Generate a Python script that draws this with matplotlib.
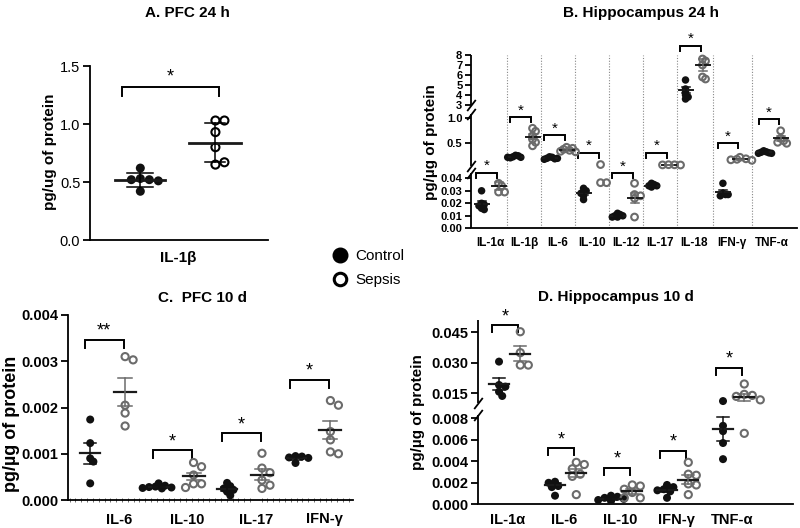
import numpy as np
import matplotlib.pyplot as plt
from matplotlib.lines import Line2D

plt.rcParams['font.family'] = ['Liberation Sans', 'DejaVu Sans']
plt.rcParams['axes.linewidth'] = 1.3

W, H = 800, 528
CTRL = '#111111'
SEPS = '#6b6b6b'

# ---- A. PFC 24 h (IL-1b, mean +/- SD)
a_ctrl = [0.53, 0.52, 0.62, 0.42, 0.52, 0.51]
a_seps = [1.03, 1.03, 0.93, 0.80, 0.65, 0.67]
a_mean = [0.52, 0.84]
a_sd = [0.06, 0.17]

# ---- B. Hippocampus 24 h
b_labels = ['IL-1α', 'IL-1β', 'IL-6', 'IL-10', 'IL-12', 'IL-17', 'IL-18', 'IFN-γ', 'TNF-α']
b_ctrl = [
    [0.030, 0.020, 0.019, 0.018, 0.016, 0.015],
    [0.26, 0.25, 0.23, 0.22, 0.21, 0.22],
    [0.23, 0.22, 0.20, 0.19, 0.18, 0.20],
    [0.032, 0.030, 0.029, 0.028, 0.026, 0.023],
    [0.012, 0.011, 0.010, 0.010, 0.009, 0.009],
    [0.036, 0.035, 0.034, 0.034, 0.033],
    [5.5, 4.6, 4.3, 4.0, 3.8, 3.6],
    [0.036, 0.028, 0.027, 0.026, 0.027],
    [0.35, 0.33, 0.32, 0.31, 0.30, 0.30],
]
b_seps = [
    [0.036, 0.034, 0.029, 0.029],
    [0.80, 0.74, 0.65, 0.58, 0.52, 0.45],
    [0.42, 0.40, 0.38, 0.36, 0.34, 0.33],
    [0.075, 0.0365, 0.0365],
    [0.036, 0.027, 0.026, 0.024, 0.009],
    [0.072, 0.070, 0.068, 0.066],
    [7.6, 7.4, 7.0, 5.8, 5.6],
    [0.22, 0.19, 0.18, 0.17, 0.16],
    [0.75, 0.60, 0.55, 0.52, 0.50],
]
b_ctrl_mean = [0.0195, 0.23, 0.20, 0.028, 0.010, 0.034, 4.5, 0.029, 0.32]
b_ctrl_sem = [0.002, 0.01, 0.008, 0.0013, 0.0005, 0.0005, 0.3, 0.002, 0.01]
b_seps_mean = [0.034, 0.63, 0.37, np.nan, 0.0245, 0.069, 7.0, 0.18, 0.60]
b_seps_sem = [0.003, 0.05, 0.015, np.nan, 0.004, 0.002, 0.6, 0.01, 0.05]
b_bracket = [0.0445, 1.02, 0.66, 0.31, 0.044, 0.31, 8.9, 0.50, 0.98]

# ---- C. PFC 10 d
c_labels = ['IL-6', 'IL-10', 'IL-17', 'IFN-γ']
c_ctrl = [
    [0.00174, 0.00123, 0.00090, 0.00083, 0.00036],
    [0.00036, 0.00031, 0.00029, 0.00028, 0.00027, 0.00026, 0.00025],
    [0.00037, 0.00030, 0.00025, 0.00022, 0.00018, 0.00010],
    [0.00095, 0.00094, 0.00092, 0.00091, 0.00080],
]
c_seps = [
    [0.00310, 0.00303, 0.00205, 0.00188, 0.00160],
    [0.00081, 0.00072, 0.00054, 0.00035, 0.00035, 0.00027],
    [0.00101, 0.00069, 0.00059, 0.00043, 0.00032, 0.00025],
    [0.00215, 0.00205, 0.00148, 0.00130, 0.00104, 0.00100],
]
c_ctrl_mean = [0.00101, 0.00029, 0.00024, 0.00090]
c_ctrl_sem = [0.00023, 0.00002, 0.00004, 0.00003]
c_seps_mean = [0.00233, 0.00051, 0.00055, 0.00151]
c_seps_sem = [0.00030, 0.00008, 0.00011, 0.00020]
c_bracket = [0.00347, 0.00108, 0.00144, 0.00260]
c_stars = ['**', '*', '*', '*']

# ---- D. Hippocampus 10 d
d_labels = ['IL-1α', 'IL-6', 'IL-10', 'IFN-γ', 'TNF-α']
d_ctrl = [
    [0.0306, 0.0191, 0.0183, 0.0158, 0.0137],
    [0.0021, 0.0017, 0.0016, 0.0020, 0.0008],
    [0.0008, 0.0007, 0.0006, 0.0005, 0.0004, 0.0003],
    [0.0018, 0.0016, 0.0014, 0.0013, 0.0012, 0.0006],
    [0.0112, 0.0073, 0.0068, 0.0057, 0.0042],
]
d_seps = [
    [0.0453, 0.0350, 0.0289, 0.0289],
    [0.0039, 0.0037, 0.0033, 0.0028, 0.0026, 0.0009],
    [0.0018, 0.0017, 0.0014, 0.0011, 0.0006, 0.0006],
    [0.0039, 0.0028, 0.0027, 0.0019, 0.0018, 0.0009],
    [0.0196, 0.0145, 0.0140, 0.0135, 0.0118, 0.0066],
]
d_ctrl_mean = [0.0195, 0.0018, 0.0005, 0.0013, 0.0070]
d_ctrl_sem = [0.0030, 0.0002, 0.0001, 0.0002, 0.0011]
d_seps_mean = [0.0345, 0.0029, 0.0012, 0.0023, 0.0130]
d_seps_sem = [0.0038, 0.0004, 0.0002, 0.0004, 0.0018]
d_bracket = [0.0486, 0.0052, 0.0034, 0.0050, 0.0276]

fig = plt.figure(figsize=(W / 100, H / 100), dpi=100)


def add_axes(left, top, right, bottom):
    ax = fig.add_axes([left / W, 1 - bottom / H, (right - left) / W, (bottom - top) / H])
    ax.spines['top'].set_visible(False)
    ax.spines['right'].set_visible(False)
    ax.patch.set_alpha(0)
    return ax


def piecewise_y(ax, data_knots, px_knots):
    # broken y axis: linear pieces glued together
    d = np.asarray(data_knots, float)
    p = np.asarray(px_knots, float)
    ax.set_yscale('function', functions=(lambda v: np.interp(v, d, p), lambda v: np.interp(v, p, d)))


def px_to_x(ax, px):
    x0, x1 = ax.get_xlim()
    return np.asarray(px) * (x1 - x0) / ax.bbox.width


def swarm(ax, xc, vals, d, overlap, step):
    ys = ax.transData.transform(np.column_stack([np.full(len(vals), xc), vals]))[:, 1]
    steps = [0.0]
    for i in range(1, 14):
        steps += [i * d * step, -i * d * step]
    placed = []
    for y in ys:
        for s in steps:
            if all((s - px) ** 2 + (y - py) ** 2 >= (overlap * d) ** 2 for px, py in placed):
                break
        placed.append((s, y))
    return xc + px_to_x(ax, [p[0] for p in placed])


def draw_group(ax, xc, vals, mean, err, filled, d, half_w, cap_w, ecol,
               overlap=0.9, step=0.5, lw=1.6):
    xs = swarm(ax, xc, vals, d, overlap, step)
    size = (d * 0.72) ** 2
    if filled:
        ax.scatter(xs, vals, s=size, c=CTRL, edgecolors='none', zorder=3)
    else:
        ax.scatter(xs, vals, s=size * 0.8, facecolors='none', edgecolors=ecol, linewidths=1.5, zorder=3)
    if np.isnan(mean):
        return
    hw, cw = px_to_x(ax, half_w), px_to_x(ax, cap_w)
    ax.plot([xc - hw, xc + hw], [mean, mean], color='#1a1a1a', lw=lw, zorder=4)
    ax.plot([xc, xc], [mean - err, mean + err], color=ecol, lw=1.1, zorder=4)
    for yy in (mean - err, mean + err):
        ax.plot([xc - cw, xc + cw], [yy, yy], color=ecol, lw=1.1, zorder=4)


def bracket(ax, x0, x1, y, text, leg=6, fs=11, pad=1):
    xd, yd = ax.transData.transform((x0, y))
    ylo = ax.transData.inverted().transform((xd, yd - leg))[1]
    ax.plot([x0, x0, x1, x1], [ylo, y, y, ylo], color='k', lw=1.4, clip_on=False,
            solid_joinstyle='miter')
    ax.annotate(text, ((x0 + x1) / 2, y), xytext=(0, pad), textcoords='offset points',
                ha='center', va='bottom', fontsize=fs, annotation_clip=False)


def broken_spine(ax, segments, breaks):
    ax.spines['left'].set_visible(False)
    tr = ax.get_yaxis_transform()
    for lo, hi in segments:
        ax.plot([0, 0], [lo, hi], color='k', lw=1.3, transform=tr, clip_on=False,
                solid_capstyle='butt')
    ax.plot([0] * len(breaks), breaks, transform=tr, ls='none', marker=[(-1, -1.3), (1, 1.3)],
            ms=8, mew=1.3, color='k', clip_on=False)


def style_ticks(ax, ylabsize, xlabsize, ybold, xpad, ylen=5):
    ax.tick_params(axis='y', length=ylen, width=1.3, labelsize=ylabsize, pad=2)
    ax.tick_params(axis='x', which='major', length=0, labelsize=xlabsize, pad=xpad)
    for t in ax.get_xticklabels():
        t.set_fontweight('bold')
    if ybold:
        for t in ax.get_yticklabels():
            t.set_fontweight('bold')


# ---------------- A
axA = add_axes(90, 66, 268, 240)
axA.set_xlim(-1.17, 1.2)
axA.set_ylim(0, 1.5)
axA.set_yticks([0, 0.5, 1.0, 1.5], ['0.0', '0.5', '1.0', '1.5'])
axA.set_xticks([0], ['IL-1β'])
style_ticks(axA, 10.5, 11, False, 8)
draw_group(axA, -0.5, a_ctrl, a_mean[0], a_sd[0], True, 9, 25, 13, 'k', lw=2)
draw_group(axA, 0.5, a_seps, a_mean[1], a_sd[1], False, 9, 26, 10, 'k', lw=2)
bracket(axA, -0.75, 0.55, 1.32, '*', leg=9, fs=13)

# ---------------- B
axB = add_axes(470.7, 30, 797, 228.3)
piecewise_y(axB, [0, 0.045, 0.05, 1.1, 3, 10.5], [0, 56.25, 62.5, 115, 123.3, 198.3])
axB.set_ylim(0, 10.5)
b_pos = [0, 1, 2, 3, 4, 5, 6, 7.1, 8.3]
axB.set_xlim(-0.57, 9.03)
b_ticks = [0, 0.01, 0.02, 0.03, 0.04, 0.5, 1.0, 3, 4, 5, 6, 7, 8]
axB.set_yticks(b_ticks, ['0.00', '0.01', '0.02', '0.03', '0.04', '0.5', '1.0',
                         '3', '4', '5', '6', '7', '8'])
axB.set_xticks(b_pos, b_labels)
style_ticks(axB, 8, 8.5, True, 6, ylen=4)
broken_spine(axB, [(0, 0.044), (0.055, 1.08), (3, 8)], [0.044, 0.055, 1.08, 3])
mids = [(b_pos[i] + b_pos[i + 1]) / 2 for i in range(len(b_pos) - 1)]
axB.vlines(mids, 0, 8, colors='#888888', linestyles=(0, (1, 1.5)), lw=0.8)
for i, p in enumerate(b_pos):
    draw_group(axB, p - 0.25, b_ctrl[i], b_ctrl_mean[i], b_ctrl_sem[i], True, 7.5, 7, 4, CTRL,
               overlap=0.35, step=0.35, lw=1.4)
    draw_group(axB, p + 0.25, b_seps[i], b_seps_mean[i], b_seps_sem[i], False, 7.5, 7, 4, SEPS,
               overlap=0.45, step=0.4, lw=1.4)
    bracket(axB, p - 0.4, p + 0.2, b_bracket[i], '*', leg=5, fs=11, pad=0)

# ---------------- C
axC = add_axes(68.3, 315, 353, 500)
axC.set_xlim(-0.57, 3.59)
axC.set_ylim(0, 0.004)
axC.set_yticks([0, 0.001, 0.002, 0.003, 0.004], ['0.000', '0.001', '0.002', '0.003', '0.004'])
c_pos = np.arange(len(c_labels))
axC.set_xticks(c_pos + 0.17, c_labels)
axC.set_xticks(np.arange(-0.55, 3.59, 0.085), minor=True)
axC.tick_params(axis='x', which='minor', length=3, width=0.6, direction='inout', color='#555555')
style_ticks(axC, 10.5, 10.5, True, 9)
for i, p in enumerate(c_pos):
    draw_group(axC, p - 0.25, c_ctrl[i], c_ctrl_mean[i], c_ctrl_sem[i], True, 8, 10, 6, CTRL,
               overlap=0.5, step=0.4)
    draw_group(axC, p + 0.26, c_seps[i], c_seps_mean[i], c_seps_sem[i], False, 8, 11, 7, SEPS)
    bracket(axC, p - 0.33, p + 0.24, c_bracket[i], c_stars[i], leg=8, fs=13, pad=0)

# ---------------- D
axD = add_axes(478.3, 299.8, 793, 504.3)
piecewise_y(axD, [0, 0.0085, 0.010, 0.061], [0, 91.4, 100.8, 204.5])
axD.set_ylim(0, 0.061)
axD.set_xlim(-0.53, 5.09)
axD.set_yticks([0, 0.002, 0.004, 0.006, 0.008, 0.015, 0.030, 0.045],
               ['0.000', '0.002', '0.004', '0.006', '0.008', '0.015', '0.030', '0.045'])
d_pos = np.arange(len(d_labels))
axD.set_xticks(d_pos, d_labels)
style_ticks(axD, 10.5, 10.5, True, 6)
broken_spine(axD, [(0, 0.0083), (0.0103, 0.051)], [0.0083, 0.0103])
for i, p in enumerate(d_pos):
    draw_group(axD, p - 0.16, d_ctrl[i], d_ctrl_mean[i], d_ctrl_sem[i], True, 8, 10, 6, CTRL,
               overlap=0.65, step=0.4)
    draw_group(axD, p + 0.22, d_seps[i], d_seps_mean[i], d_seps_sem[i], False, 8, 10, 6, SEPS)
    bracket(axD, p - 0.28, p + 0.18, d_bracket[i], '*', leg=7, fs=13, pad=0)

# ---------------- titles, y labels
titles = [('A. PFC 24 h', 187, 13), ('B. Hippocampus 24 h', 641, 13),
          ('C.  PFC 10 d', 202, 298), ('D. Hippocampus 10 d', 616, 297)]
for txt, x, y in titles:
    fig.text(x / W, 1 - y / H, txt, ha='center', va='center', fontsize=11, fontweight='bold')

ylabels = [('pg/ug of protein', 50, 152, 11), ('pg/µg of protein', 431, 142, 11),
           ('pg/µg of protein', 12, 424, 13), ('pg/µg of protein', 418, 412, 11)]
for txt, x, y, fs in ylabels:
    fig.text(x / W, 1 - y / H, txt, ha='center', va='center', rotation=90,
             fontsize=fs, fontweight='bold')

# ---------------- legend
handles = [Line2D([], [], ls='none', marker='o', ms=10.5, mfc='k', mec='k'),
           Line2D([], [], ls='none', marker='o', ms=9, mfc='white', mec='k', mew=2.2)]
fig.legend(handles, ['Control', 'Sepsis'], loc='upper left', bbox_to_anchor=(332 / W, 1 - 249 / H),
           frameon=False, fontsize=11, handlelength=1.0, handletextpad=0.5,
           labelspacing=0.65, borderpad=0, borderaxespad=0)

fig.savefig('out.png', dpi=100)
